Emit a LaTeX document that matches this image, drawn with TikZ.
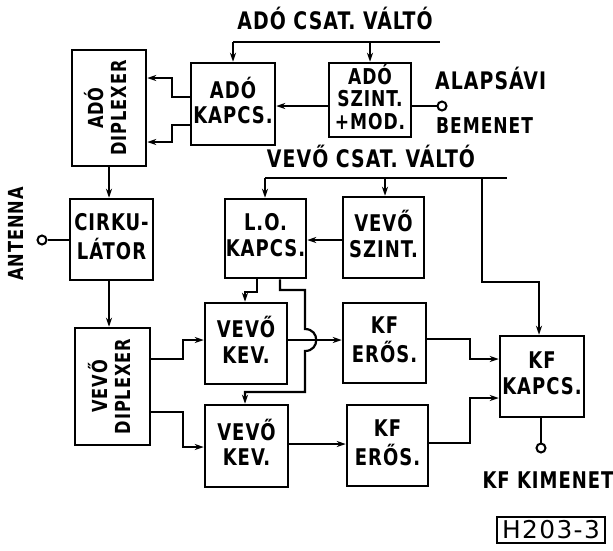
\documentclass[tikz,border=0pt]{standalone}
\usepackage{fontspec}
\setmainfont{DejaVu Sans Condensed}[LetterSpace=5]
\usetikzlibrary{arrows.meta}
\newcommand\tx[1]{\scalebox{1}[1.15]{\begin{tabular}{@{}c@{}}#1\end{tabular}}}
\tikzset{
  box/.style={draw, line width=2.5pt, inner sep=0pt, align=center, font=\bfseries\fontsize{20}{22}\selectfont},
  wire/.style={line width=2.2pt},
  arr/.style={line width=2.2pt, -{Stealth[length=9pt,width=6pt]}},
  term/.style={circle, draw, line width=2pt, minimum size=9pt, inner sep=0pt},
  lbl/.style={font=\bfseries\fontsize{21}{24}\selectfont, inner sep=0pt},
}
\begin{document}
\begin{tikzpicture}[x=1pt,y=-1pt]
\useasboundingbox (0,0) rectangle (613,550);
% boxes
\node[box, minimum width=74, minimum height=116, font=\bfseries\fontsize{18}{20}\selectfont] (adodip) at (109,108) {\rotatebox{90}{\tx{ADÓ\\DIPLEXER}}};
\node[box, minimum width=84, minimum height=82] (adokap) at (233,104) {\tx{ADÓ\\KAPCS.}};
\node[box, minimum width=82, minimum height=74, font=\bfseries\fontsize{19}{19}\selectfont] (adoszint) at (370,100) {\tx{ADÓ\\SZINT.\\+MOD.}};
\node[box, minimum width=83, minimum height=81] (cirk) at (111.5,239.5) {\tx{CIRKU-\\LÁTOR}};
\node[box, minimum width=81, minimum height=79] (lokap) at (265.5,238.5) {\tx{L.O.\\KAPCS.}};
\node[box, minimum width=81, minimum height=81] (vevszint) at (383.5,237.5) {\tx{VEVŐ\\SZINT.}};
\node[box, minimum width=75, minimum height=117, font=\bfseries\fontsize{18}{20}\selectfont] (vevdip) at (112.5,386.5) {\rotatebox{90}{\tx{VEVŐ\\DIPLEXER}}};
\node[box, minimum width=82, minimum height=81] (kev1) at (246,343.5) {\tx{VEVŐ\\KEV.}};
\node[box, minimum width=83, minimum height=82] (kev2) at (246.5,446) {\tx{VEVŐ\\KEV.}};
\node[box, minimum width=83, minimum height=80] (kf1) at (384.5,343) {\tx{KF\\ERŐS.}};
\node[box, minimum width=81, minimum height=81] (kf2) at (387.5,445.5) {\tx{KF\\ERŐS.}};
\node[box, minimum width=84, minimum height=81] (kfkap) at (542,376.5) {\tx{KF\\KAPCS.}};
\node[box, minimum width=108, minimum height=26, line width=2pt, font=\fontsize{24}{24}\selectfont] (code) at (551,530) {\scalebox{1.15}[1.02]{H203-3}};
% labels
\node[lbl] (adolbl) at (335,22) {\tx{ADÓ CSAT. VÁLTÓ}};
\node[lbl] (vevlbl) at (371,160) {\tx{VEVŐ CSAT. VÁLTÓ}};
\node[lbl, anchor=west] (alap) at (435,82) {\tx{ALAPSÁVI}};
\node[lbl, anchor=west, font=\bfseries\fontsize{19}{24}\selectfont] (bem) at (436,128) {\tx{BEMENET}};
\node[lbl, rotate=90, font=\bfseries\fontsize{18}{24}\selectfont] (ant) at (18,234) {\tx{ANTENNA}};
\node[lbl, font=\bfseries\fontsize{20}{24}\selectfont] (kimen) at (548,483) {\tx{KF KIMENET}};
% terminals
\node[term] (tin) at (442,106) {};
\node[term] (tant) at (42,240) {};
\node[term] (tout) at (541,448) {};
% coordinates
\coordinate (al) at (233,42);
\coordinate (ar) at (440,42);
\coordinate (vl) at (265,178);
\coordinate (vr) at (507,178);
% ADÓ csat. váltó
\draw[wire] (al) -- (ar);
\draw[arr] (al) -- (adokap.north);
\draw[arr] (adoszint.north |- al) -- (adoszint.north);
\draw[arr] (adoszint.west |- 0,106) -- (adokap.east |- 0,106);
\draw[wire] (adoszint.east |- 0,106) -- (tin);
\draw[arr] (adokap.west |- 0,97) -- (172,97) -- (172,78) -- (adodip.east |- 0,78);
\draw[arr] (adokap.west |- 0,125) -- (172,125) -- (172,142) -- (adodip.east |- 0,142);
\draw[arr] (adodip.south) -- (adodip.south |- cirk.north);
\draw[wire] (tant) -- (cirk.west |- tant);
\draw[arr] (cirk.south -| adodip.south) -- (adodip.south |- vevdip.north);
% VEVŐ csat. váltó
\draw[wire] (vl) -- (vr);
\draw[arr] (vl) -- (vl |- lokap.north);
\draw[arr] (385,178) -- (385,0 |- vevszint.north);
\draw[arr] (482,178) -- (482,282) -- (539,282) -- (539,0 |- kfkap.north);
\draw[arr] (vevszint.west |- 0,240) -- (lokap.east |- 0,240);
% diplexer to mixers
\draw[arr] (vevdip.east |- 0,359) -- (183,359) -- (183,340) -- (kev1.west |- 0,340);
\draw[arr] (vevdip.east |- 0,412) -- (183,412) -- (183,447) -- (kev2.west |- 0,447);
% LO to mixers
\draw[arr] (257,0 |- lokap.south) -- (257,292) -- (245,292) -- (245,0 |- kev1.north);
\draw[arr] (280,0 |- lokap.south) -- (280,290) -- (305,290) -- (305,329) .. controls (320,329) and (320,351) .. (305,351) -- (305,392) -- (245,392) -- (245,0 |- kev2.north);
% mixers to IF amps
\draw[arr] (kev1.east |- 0,340) -- (kf1.west |- 0,340);
\draw[arr] (kev2.east |- 0,444) -- (kf2.west |- 0,444);
% IF amps to IF switch
\draw[arr] (kf1.east |- 0,339) -- (470,339) -- (470,359) -- (kfkap.west |- 0,359);
\draw[arr] (kf2.east |- 0,443) -- (470,443) -- (470,398) -- (kfkap.west |- 0,398);
\draw[wire] (kfkap.south -| tout) -- (tout);
\end{tikzpicture}
\end{document}
